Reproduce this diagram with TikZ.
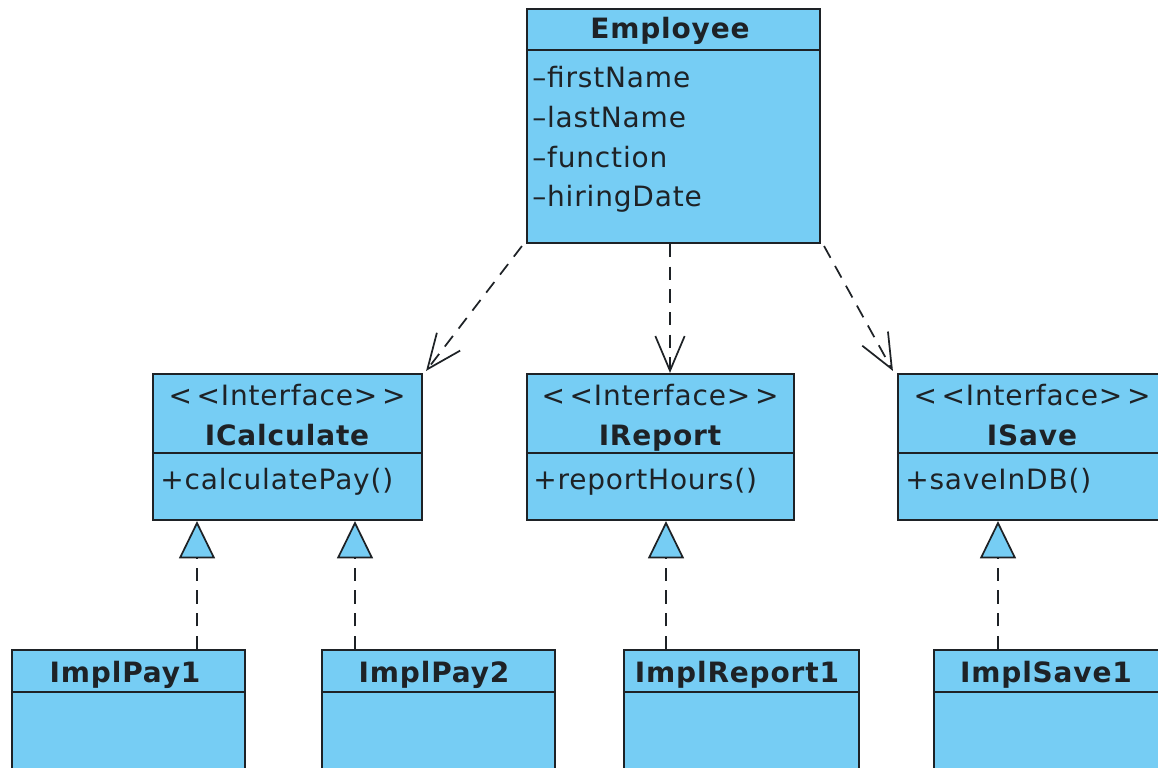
\documentclass[tikz,border=0pt]{standalone}
\usepackage{fontspec}
\setmainfont{DejaVu Sans}[LetterSpace=3]
\usetikzlibrary{arrows.meta,calc,fit}
\definecolor{boxfill}{RGB}{118,205,244}
\definecolor{ink}{RGB}{30,34,38}
\begin{document}
\begin{tikzpicture}[x=0.75pt,y=-0.75pt,
  umlbox/.style={draw=ink, fill=boxfill, line width=1.6pt, inner sep=0pt, rectangle},
  sepline/.style={draw=ink, line width=1.6pt},
  ttl/.style={font=\fontsize{21}{25}\selectfont\bfseries, inner sep=0pt, anchor=base, text=ink},
  stereo/.style={font=\fontsize{21}{25}\selectfont, inner sep=0pt, anchor=base, text=ink},
  attr/.style={font=\fontsize{21}{25}\selectfont, inner sep=0pt, anchor=base west, text=ink},
  dep/.style={draw=ink, line width=1.3pt, dash pattern=on 10pt off 7pt,
    -{Straight Barb[length=26pt,width=22pt]}},
  real/.style={draw=ink, line width=1.3pt, dash pattern=on 10pt off 7pt,
    -{Triangle[length=28pt,width=27pt,fill=boxfill]}}
]
\useasboundingbox (0,0) rectangle (1158,768);
\clip (0,0) rectangle (1158,768);

% Employee
\node[umlbox, fit={(527,9) (820,243)}] (emp) {};
\draw[sepline] (emp.west |- 0,50) -- (emp.east |- 0,50);
\node[ttl] (empT) at (670,38) {Employee};
\node[attr] (a1) at (532,87) {–firstName};
\node[attr] (a2) at (532,127) {–lastName};
\node[attr] (a3) at (532,167) {–function};
\node[attr] (a4) at (532,206) {–hiringDate};

% Interfaces
\node[umlbox, fit={(153,374) (422,520)}] (ical) {};
\draw[sepline] (ical.west |- 0,453) -- (ical.east |- 0,453);
\node[stereo] (icalS) at (287,405) {{<}\,{<}Interface{>}\,{>}};
\node[ttl] (icalT) at (287,445) {ICalculate};
\node[attr] (icalM) at (160,489) {+calculatePay()};

\node[umlbox, fit={(527,374) (794,520)}] (irep) {};
\draw[sepline] (irep.west |- 0,453) -- (irep.east |- 0,453);
\node[stereo] (irepS) at (660,405) {{<}\,{<}Interface{>}\,{>}};
\node[ttl] (irepT) at (660,445) {IReport};
\node[attr] (irepM) at (533,489) {+reportHours()};

\node[umlbox, fit={(898,374) (1166,520)}] (isav) {};
\draw[sepline] (isav.west |- 0,453) -- (isav.east |- 0,453);
\node[stereo] (isavS) at (1032,405) {{<}\,{<}Interface{>}\,{>}};
\node[ttl] (isavT) at (1032,445) {ISave};
\node[attr] (isavM) at (905,489) {+saveInDB()};

% Implementations
\node[umlbox, fit={(12,650) (245,790)}] (ip1) {};
\draw[sepline] (ip1.west |- 0,692) -- (ip1.east |- 0,692);
\node[ttl] (ip1T) at (125,682) {ImplPay1};

\node[umlbox, fit={(322,650) (555,790)}] (ip2) {};
\draw[sepline] (ip2.west |- 0,692) -- (ip2.east |- 0,692);
\node[ttl] (ip2T) at (434,682) {ImplPay2};

\node[umlbox, fit={(624,650) (859,790)}] (ir1) {};
\draw[sepline] (ir1.west |- 0,692) -- (ir1.east |- 0,692);
\node[ttl] (ir1T) at (737,682) {ImplReport1};

\node[umlbox, fit={(934,650) (1162,790)}] (is1) {};
\draw[sepline] (is1.west |- 0,692) -- (is1.east |- 0,692);
\node[ttl] (is1T) at (1046,682) {ImplSave1};

% Dependencies
\draw[dep] ($(emp.south west)+(-4,2)$) -- ($(ical.north east)+(3,-2)$);
\coordinate (dx) at (670,0);
\draw[dep] (emp.south -| dx) -- (irep.north -| dx);
\draw[dep] ($(emp.south east)+(3,2)$) -- ($(isav.north west)+(-4,-2)$);

% Realizations
\coordinate (r1) at (197,0);
\coordinate (r2) at (355,0);
\coordinate (r3) at (666,0);
\coordinate (r4) at (998,0);
\draw[real] (ip1.north -| r1) -- (ical.south -| r1);
\draw[real] (ip2.north -| r2) -- (ical.south -| r2);
\draw[real] (ir1.north -| r3) -- (irep.south -| r3);
\draw[real] (is1.north -| r4) -- (isav.south -| r4);
\end{tikzpicture}
\end{document}
